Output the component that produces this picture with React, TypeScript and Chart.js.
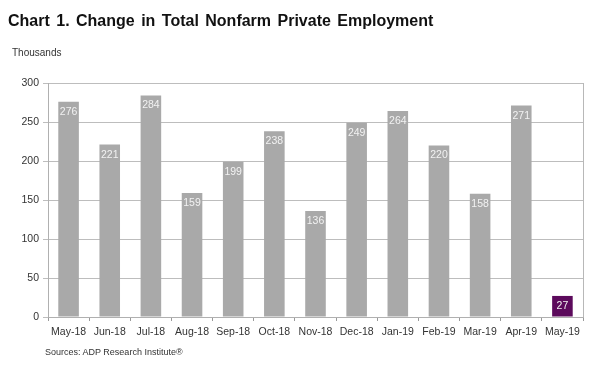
import React, { useEffect, useRef } from "react";
import { Chart, registerables } from "chart.js";

Chart.register(...registerables);

const categories = ["May-18", "Jun-18", "Jul-18", "Aug-18", "Sep-18", "Oct-18", "Nov-18", "Dec-18", "Jan-19", "Feb-19", "Mar-19", "Apr-19", "May-19"];
const values = [276, 221, 284, 159, 199, 238, 136, 249, 264, 220, 158, 271, 27];
const yTicks = [0, 50, 100, 150, 200, 250, 300];

const FONT = "'Liberation Sans', Arial, sans-serif";

const labelPlugin = {
  id: "barLabels",
  afterDatasetsDraw(chart: any) {
    const ctx = chart.ctx;
    const meta = chart.getDatasetMeta(0);
    ctx.save();
    ctx.font = "10.5px " + FONT;
    ctx.fillStyle = "#f2f2f2";
    ctx.textAlign = "center";
    ctx.textBaseline = "middle";
    meta.data.forEach((bar: any, i: number) => {
      ctx.fillText(String(values[i]), bar.x, bar.y + 10);
    });
    // right border of plot area
    const a = chart.chartArea;
    ctx.strokeStyle = "#b8b8b8";
    ctx.lineWidth = 1;
    ctx.beginPath();
    ctx.moveTo(Math.round(a.right) + 0.5, a.top);
    ctx.lineTo(Math.round(a.right) + 0.5, a.bottom);
    ctx.stroke();
    ctx.restore();
  },
};

export default function App() {
  const ref = useRef<HTMLCanvasElement>(null);
  useEffect(() => {
    const colors = values.map((_, i) => (i === values.length - 1 ? "#5c0a5c" : "#a9a9a9"));
    const chart = new Chart(ref.current!, {
      type: "bar",
      data: {
        labels: categories,
        datasets: [
          {
            data: values,
            backgroundColor: colors,
            barPercentage: 0.5,
            categoryPercentage: 1,
          },
        ],
      },
      options: {
        animation: false,
        responsive: false,
        maintainAspectRatio: false,
        layout: { padding: { left: 0, right: 17, top: 83, bottom: 0 } },
        plugins: { legend: { display: false }, tooltip: { enabled: false } },
        scales: {
          x: {
            offset: true,
            afterFit(axis: any) {
              axis.height = 53;
            },
            border: { color: "#b0b0b0" },
            grid: { offset: true, drawOnChartArea: false, color: "#9a9a9a", tickLength: 4 },
            ticks: { color: "#333", font: { family: FONT, size: 10.5 }, maxRotation: 0, autoSkip: false, padding: 5 },
          },
          y: {
            min: 0,
            max: 300,
            afterBuildTicks(axis: any) {
              axis.ticks = yTicks.map((v) => ({ value: v }));
            },
            afterFit(axis: any) {
              axis.width = 48;
            },
            border: { color: "#b0b0b0" },
            grid: { color: "#bdbdbd", tickLength: 5 },
            ticks: { color: "#333", font: { family: FONT, size: 10.5 }, padding: 4 },
          },
        },
      },
      plugins: [labelPlugin],
    });
    return () => chart.destroy();
  }, []);
  return (
    <div style={{ position: "absolute", left: 0, top: 0, width: 600, height: 370, background: "#fff", fontFamily: FONT }}>
      <canvas ref={ref} width={600} height={370} style={{ position: "absolute", left: 0, top: 0 }} />
      <div style={{ position: "absolute", left: 8, top: 12, fontSize: 16, fontWeight: "bold", color: "#111", whiteSpace: "nowrap", wordSpacing: 2 }}>
        Chart 1. Change in Total Nonfarm Private Employment
      </div>
      <div style={{ position: "absolute", left: 12, top: 47, fontSize: 10, color: "#333" }}>Thousands</div>
      <div style={{ position: "absolute", left: 45, top: 347, fontSize: 9, color: "#333" }}>Sources: ADP Research Institute®</div>
    </div>
  );
}
